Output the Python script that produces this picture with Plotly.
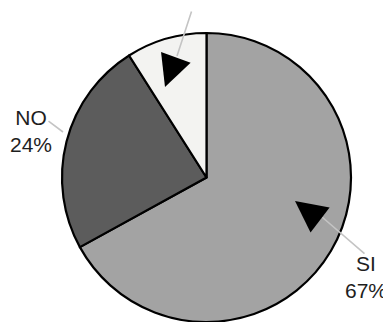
import plotly.graph_objects as go

# Data
labels = ["SI", "NO", "NS/NC"]
values = [67, 24, 9]
colors = ["#a3a3a3", "#5c5c5c", "#f3f3f1"]

OFF = 8  # default page body margin
W, H = 391 - OFF, 322 - OFF
ML, MR, MT, MB = 14, 0, 25, 0
PW, PH = W - ML - MR, H - MT - MB


def px(x):
    return (x - OFF - ML) / PW


def py(y):
    return (H - MB - (y - OFF)) / PH


fig = go.Figure(go.Pie(
    labels=labels,
    values=values,
    marker=dict(colors=colors, line=dict(color="#000000", width=2.2)),
    sort=False,
    direction="clockwise",
    rotation=0,
    textinfo="none",
    hoverinfo="label+percent",
    showlegend=False,
))

annotations = []
font = dict(family="Liberation Sans, Arial, sans-serif", size=21, color="#1e1e1e")

# visible labels (SI and NO)
annotations.append(dict(x=px(366), y=py(277), xref="paper", yref="paper",
                        text=f"{labels[0]}<br>{values[0]}%", showarrow=False,
                        font=font, align="center", xanchor="center", yanchor="middle"))
annotations.append(dict(x=px(31), y=py(131), xref="paper", yref="paper",
                        text=f"{labels[1]}<br>{values[1]}%", showarrow=False,
                        font=font, align="center", xanchor="center", yanchor="middle"))

# grey leader lines
grey = "#c4c4c4"
for (tx, ty, ax, ay) in [(322, 217, 44, 38), (177, 56, 15, -46), (63, 132, -16, -12)]:
    annotations.append(dict(x=px(tx), y=py(ty), xref="paper", yref="paper", text="",
                            showarrow=True, arrowhead=0, arrowcolor=grey, arrowwidth=1.6,
                            ax=ax, ay=ay))

# black arrowheads inside slices
for (tx, ty, ax, ay) in [(295, 201, 25, 19), (165, 87, 11, -30)]:
    annotations.append(dict(x=px(tx), y=py(ty), xref="paper", yref="paper", text="",
                            showarrow=True, arrowhead=2, arrowcolor="#000000", arrowwidth=1,
                            arrowsize=6.3, ax=ax, ay=ay))

fig.update_layout(
    width=W, height=H,
    margin=dict(l=ML, r=MR, t=MT, b=MB, pad=0),
    paper_bgcolor="white", plot_bgcolor="white",
    annotations=annotations,
)

fig.write_html("out.html")
